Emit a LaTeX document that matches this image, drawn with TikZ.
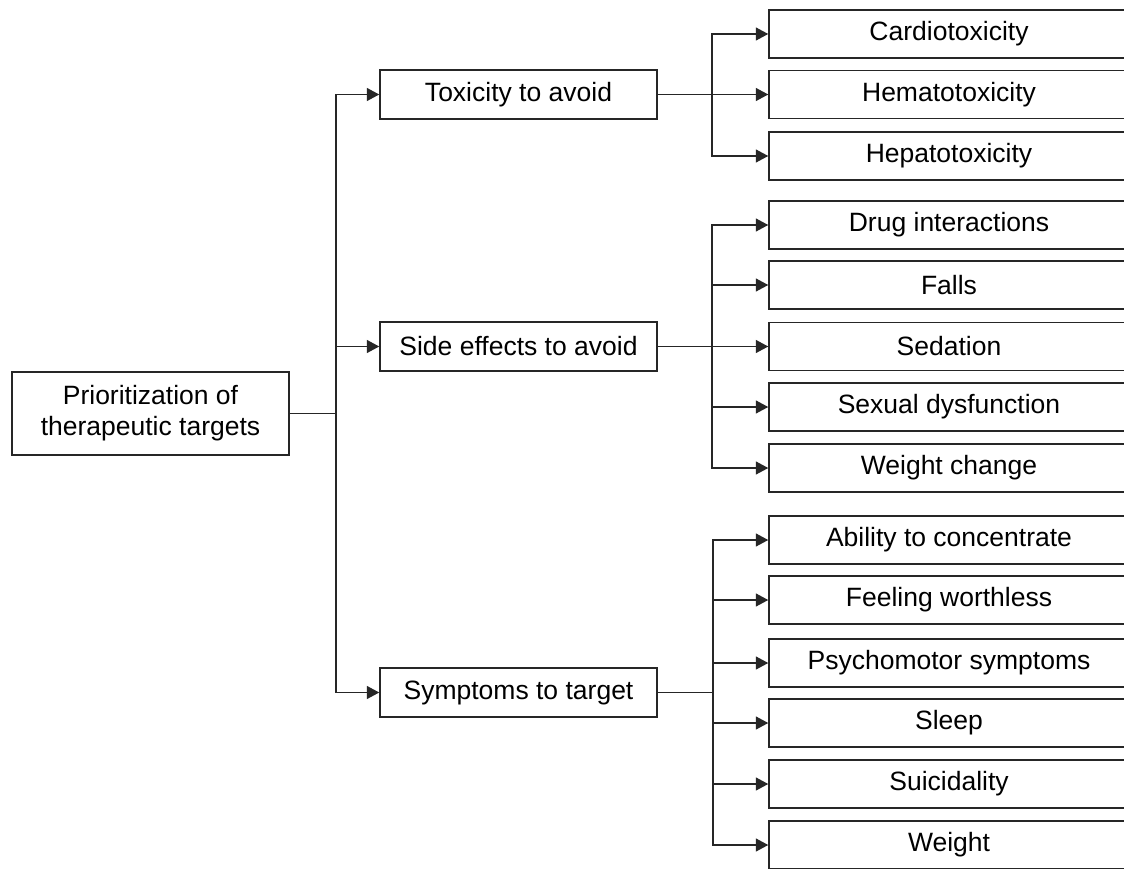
\documentclass[tikz,border=0pt]{standalone}
\usepackage{fontspec}
\setmainfont{Liberation Sans}
\usetikzlibrary{arrows.meta}
\begin{document}
\begin{tikzpicture}[x=1pt,y=-1pt,
  every node/.style={font=\fontsize{26.5}{31}\selectfont, text=black},
  boxbase/.style={draw=black!85, line width=1.5pt, fill=white, inner sep=0pt, align=center},
  rootbox/.style={boxbase, minimum width=277pt, minimum height=83pt},
  midbox/.style={boxbase, minimum width=277pt, minimum height=49pt},
  leafbox/.style={boxbase, minimum width=360pt, minimum height=48pt},
  conn/.style={draw=black!85, line width=1.5pt},
  arr/.style={conn, -{Triangle[length=12.5pt,width=13pt]}}]
\useasboundingbox (0,0) rectangle (1124,869);
\clip (0,0) rectangle (1124,869);
\fill[white] (0,0) rectangle (1124,869);
% root
\node[rootbox] (root) at (150.5,413.5) {Prioritization of\\therapeutic targets};
% middle
\node[midbox] (tox) at (518.5,94.5) {Toxicity to avoid};
\node[midbox] (side) at (518.5,346.5) {Side effects to avoid};
\node[midbox] (sym) at (518.5,692.5) {Symptoms to target};
% leaves
\node[leafbox] (c1) at (949,34) {Cardiotoxicity};
\node[leafbox] (c2) at (949,94.5) {Hematotoxicity};
\node[leafbox] (c3) at (949,156) {Hepatotoxicity};
\node[leafbox] (s1) at (949,225) {Drug interactions};
\node[leafbox] (s2) at (949,285) {Falls};
\node[leafbox] (s3) at (949,346.5) {Sedation};
\node[leafbox] (s4) at (949,407) {Sexual dysfunction};
\node[leafbox] (s5) at (949,468) {Weight change};
\node[leafbox] (t1) at (949,540) {Ability to concentrate};
\node[leafbox] (t2) at (949,600) {Feeling worthless};
\node[leafbox] (t3) at (949,663) {Psychomotor symptoms};
\node[leafbox] (t4) at (949,723) {Sleep};
\node[leafbox] (t5) at (949,784) {Suicidality};
\node[leafbox] (t6) at (949,845) {Weight};
% junctions
\coordinate (jr) at (336,413.5);
\coordinate (jt) at (712,94.5);
\coordinate (js) at (712,346.5);
\coordinate (jy) at (713,692.5);
% connectors
\draw[conn] (root.east) -- (jr);
\foreach \m in {tox,side,sym} \draw[arr] (jr) |- (\m.west);
\draw[conn] (tox.east) -- (jt);
\foreach \c in {c1,c2,c3} \draw[arr] (jt) |- (\c.west);
\draw[conn] (side.east) -- (js);
\foreach \c in {s1,s2,s3,s4,s5} \draw[arr] (js) |- (\c.west);
\draw[conn] (sym.east) -- (jy);
\foreach \c in {t1,t2,t3,t4,t5,t6} \draw[arr] (jy) |- (\c.west);
\end{tikzpicture}
\end{document}
